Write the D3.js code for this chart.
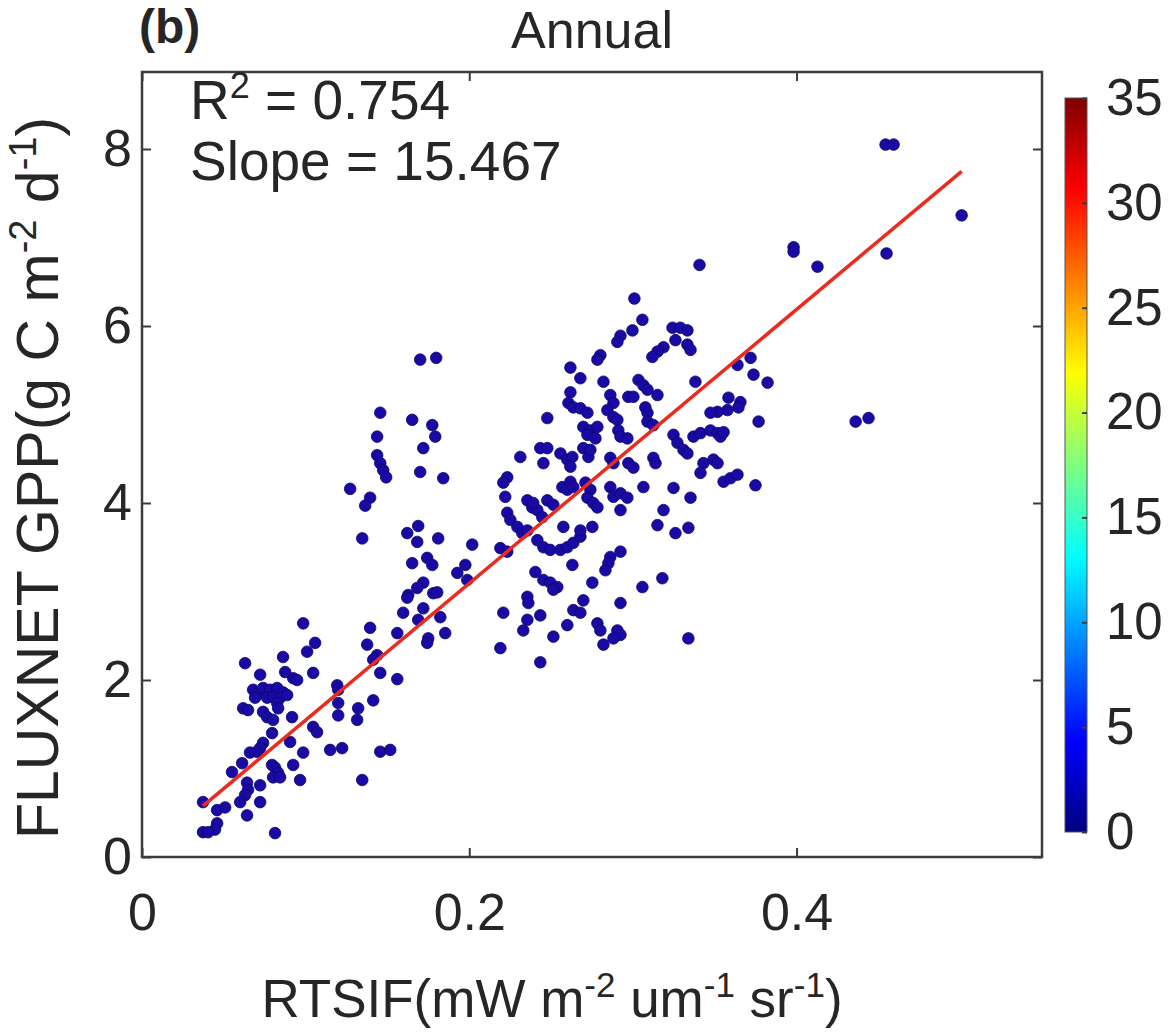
<!DOCTYPE html>
<html>
<head>
<meta charset="utf-8">
<script src="https://cdn.jsdelivr.net/npm/d3@7"></script>
<style>
  body { margin: 0; background: #fff; }
  text { font-family: "Liberation Sans", Arial, sans-serif; fill: #262626; }
</style>
</head>
<body>
<div id="container"></div>
<script>
// RTSIF (x) and FLUXNET GPP (y)
const sifVals = [
  0.0985,0.1394,0.1058,0.1009,0.1376,0.156,0.0862,0.063,0.1437,0.1413,
  0.0722,0.0875,0.0924,0.0948,0.1046,0.1456,0.156,0.1193,0.1199,0.0679,
  0.0709,0.074,0.0783,0.0826,0.0862,0.0691,0.0765,0.0801,0.0844,0.0887,
  0.0826,0.0832,0.0618,0.0648,0.074,0.0765,0.0801,0.0917,0.1199,0.1199,
  0.1321,0.1315,0.1413,0.1046,0.107,0.0795,0.0905,0.074,0.0722,0.0703,
  0.066,0.115,0.1223,0.1456,0.1517,0.0985,0.0612,0.055,0.0795,0.0813,
  0.0832,0.0801,0.0844,0.0924,0.0966,0.1346,0.0642,0.0648,0.063,0.0722,
  0.060,0.0722,0.0373,0.0459,0.0508,0.0642,0.0459,0.0446,0.0373,0.0404,
  0.0813,
  0.17,0.1798,0.1456,0.1651,0.1774,0.1792,0.1437,0.1719,0.1437,0.1456,
  0.1474,0.1492,0.17,0.1841,0.1272,0.1394,0.1364,0.1346,0.1621,0.1688,
  0.1682,0.181,0.1651,0.1743,0.1774,0.1927,0.1719,0.1682,0.1627,0.1621,
  0.178,0.1804,0.1596,0.1719,0.1688,0.1823,0.1853,0.1749,0.1743,
  0.3407,0.3009,0.3058,0.2997,0.2924,0.2905,0.3242,0.329,0.3333,0.326,
  0.3333,0.3352,0.3187,0.315,0.3119,0.2801,0.2783,0.2618,0.2679,0.282,
  0.3034,0.3064,0.3089,0.3382,0.3719,0.3737,0.3823,0.3639,0.2618,0.2606,
  0.2636,0.2862,0.2881,0.2972,0.3003,0.315,0.2679,0.2722,0.2844,0.2881,
  0.2905,0.3076,0.3089,0.3584,0.3657,0.3645,0.3578,0.3517,0.3474,0.3768,
  0.2477,0.2697,0.274,0.2783,0.2722,0.2771,0.2911,0.2924,0.2966,0.3089,
  0.3125,0.3248,0.3272,0.3309,0.3333,0.337,0.3413,0.3474,0.3517,0.3535,
  0.3554,0.2312,0.2434,0.2477,0.2453,0.2557,0.2599,0.263,0.2618,0.2697,
  0.2728,0.274,0.2862,0.2881,0.2972,0.3003,0.3125,0.3138,0.3431,0.3492,
  0.3517,0.3413,0.3554,0.3596,0.3639,0.3749,0.2232,0.2208,0.222,0.2355,
  0.2385,0.2416,0.2391,0.2477,0.2514,0.2569,0.2599,0.2618,0.2636,0.271,
  0.274,0.2722,0.2758,0.2783,0.2862,0.2881,0.2924,0.2966,0.3064,0.2924,
  0.3248,0.3352,0.3187,0.2232,0.2251,0.2294,0.2324,0.2446,0.2752,0.315,
  0.326,0.3339,0.2575,0.2416,0.2453,0.2495,0.2557,0.2599,0.2636,0.2679,
  0.2679,0.219,0.2232,0.2355,0.263,0.2404,0.2453,0.2495,0.2538,0.2514,
  0.2862,0.285,0.2832,0.2924,0.2752,0.3058,0.318,0.2355,0.2361,0.2208,
  0.2355,0.233,0.2434,0.2514,0.2636,0.2679,0.2697,0.2599,0.2783,0.2801,
  0.2924,0.2905,0.2924,0.2881,0.3339,0.2018,0.1976,0.1988,0.219,0.2434,
  0.282,
  0.4544,0.4593,0.5009,0.3982,0.3982,0.4128,0.455,0.4361,0.444
];
const gppVals = [
  2.64,2.59,2.42,2.32,2.40,2.53,2.26,2.19,2.28,2.23,
  2.06,2.09,2.02,2.00,2.08,2.08,2.01,1.94,1.89,1.89,
  1.85,1.91,1.89,1.91,1.86,1.80,1.80,1.81,1.80,1.83,
  1.74,1.68,1.68,1.66,1.64,1.58,1.55,1.58,1.74,1.60,
  1.68,1.55,1.77,1.47,1.41,1.40,1.30,1.29,1.23,1.19,
  1.18,1.21,1.23,1.19,1.21,1.18,1.06,0.96,1.04,1.01,
  0.95,0.90,0.90,1.04,0.87,0.87,0.84,0.76,0.70,0.81,
  0.62,0.62,0.62,0.53,0.56,0.47,0.38,0.31,0.28,0.28,
  0.27,
  5.62,5.64,5.02,4.94,4.88,4.75,4.75,4.62,4.54,4.45,
  4.37,4.29,4.35,4.28,4.16,4.06,3.97,3.60,3.66,3.74,
  3.56,3.60,3.32,3.38,3.30,3.21,3.10,3.04,2.96,2.93,
  2.98,2.99,2.76,2.81,2.68,2.71,2.53,2.47,2.42,
  6.69,6.31,6.07,5.95,5.89,5.82,5.98,5.98,5.95,5.84,
  5.79,5.73,5.76,5.71,5.65,5.67,5.62,5.53,5.41,5.37,
  5.39,5.33,5.28,5.37,5.64,5.45,5.36,5.56,5.25,5.13,
  5.08,5.22,5.13,5.20,5.20,5.22,5.07,5.02,5.05,4.97,
  4.94,5.08,5.02,5.19,5.14,5.08,5.05,5.03,5.02,4.92,
  4.96,4.86,4.82,4.86,4.77,4.73,4.82,4.75,4.73,4.92,
  4.88,4.77,4.68,4.60,4.56,4.75,4.79,4.82,4.79,4.75,
  4.80,4.52,4.62,4.62,4.45,4.56,4.49,4.52,4.41,4.62,
  4.52,4.60,4.51,4.45,4.45,4.40,4.51,4.45,4.45,4.49,
  4.45,4.34,4.24,4.28,4.32,4.20,4.29,4.23,4.07,4.03,
  3.95,3.92,4.00,4.03,3.98,4.18,4.15,4.24,4.18,4.23,
  4.15,4.06,4.00,3.95,4.18,4.07,4.11,4.06,4.18,3.92,
  4.17,4.06,3.92,3.89,3.81,3.73,3.66,3.84,3.73,3.75,
  3.66,3.72,3.73,3.58,3.50,3.47,3.47,3.50,3.55,3.62,
  3.69,3.49,3.45,3.69,3.30,3.22,3.13,3.10,3.05,3.02,
  3.39,3.32,3.24,3.45,3.10,3.05,3.15,2.94,2.87,2.76,
  2.68,2.56,2.73,2.49,2.79,2.76,2.90,2.62,2.64,2.56,
  2.87,2.56,2.51,2.47,2.47,3.53,3.30,3.13,2.36,2.20,
  2.40,
  8.05,8.05,7.25,6.89,6.84,6.67,6.82,4.92,4.96
];
const xTicks = [0, 0.2, 0.4];
const yTicks = [0, 2, 4, 6, 8];
const cbTicks = [0, 5, 10, 15, 20, 25, 30, 35];
const cbDomain = [0, 35];
// jet colormap stops, as fractions of the colour range
const jetStops = [0, 0.125, 0.375, 0.625, 0.875, 1];
const jetColors = ["#000080", "#0000ff", "#00ffff", "#ffff00", "#ff0000", "#800000"];
const fitSlope = 15.467;
const fitIntercept = 0.0;
const r2 = 0.754;

const W = 1168, H = 1034;
const mLeft = 142, mRight = 1042, mTop = 72, mBottom = 857;
const tickFont = "52px";

const svg = d3.select("#container").append("svg")
    .attr("width", W).attr("height", H);

const x = d3.scaleLinear().domain([0, 0.55]).range([mLeft, mRight]);
const y = d3.scaleLinear().domain([0, 8.87]).range([mBottom, mTop]);

const pts = sifVals.map((s, i) => ({s: s, g: gppVals[i]}));

// points
svg.append("g").selectAll("circle").data(pts).join("circle")
    .attr("cx", d => x(d.s))
    .attr("cy", d => y(d.g))
    .attr("r", 5.8)
    .attr("fill", "#1a0aa4")
    .attr("stroke", "#0d0570")
    .attr("stroke-width", 0.8);

// fit line across the data range
const ext = d3.extent(sifVals);
const fit = ext.map(s => ({s: s, g: fitIntercept + fitSlope * s}));
svg.append("path")
    .attr("d", d3.line().x(d => x(d.s)).y(d => y(d.g))(fit))
    .attr("stroke", "#ec2a1e")
    .attr("stroke-width", 3.5)
    .attr("fill", "none");

// axes, ticks pointing inward on all four sides
const axColor = "#3c3c3c";
function styleAxis(size) {
  return function(g) {
    g.select(".domain").remove();
    g.selectAll(".tick line").attr("stroke", axColor).attr("stroke-width", 2);
    g.selectAll(".tick text")
        .style("font-family", "'Liberation Sans', Arial, sans-serif")
        .style("font-size", size).attr("fill", "#262626");
  };
}
svg.append("g").attr("transform", "translate(0," + mBottom + ")")
    .call(d3.axisBottom(x).tickValues(xTicks).tickFormat(d => d)
        .tickSizeInner(-9).tickSizeOuter(0).tickPadding(36))
    .call(styleAxis(tickFont));
svg.append("g").attr("transform", "translate(0," + mTop + ")")
    .call(d3.axisTop(x).tickValues(xTicks).tickFormat("")
        .tickSizeInner(-9).tickSizeOuter(0))
    .call(styleAxis(tickFont));
svg.append("g").attr("transform", "translate(" + mLeft + ",0)")
    .call(d3.axisLeft(y).tickValues(yTicks).tickFormat(d => d)
        .tickSizeInner(-9).tickSizeOuter(0).tickPadding(10))
    .call(styleAxis(tickFont));
svg.append("g").attr("transform", "translate(" + mRight + ",0)")
    .call(d3.axisRight(y).tickValues(yTicks).tickFormat("")
        .tickSizeInner(-9).tickSizeOuter(0))
    .call(styleAxis(tickFont));

svg.append("rect")
    .attr("x", mLeft).attr("y", mTop)
    .attr("width", mRight - mLeft).attr("height", mBottom - mTop)
    .attr("fill", "none").attr("stroke", axColor).attr("stroke-width", 2.5);

// colour bar
const cbX = 1065, cbW = 22, cbTop = 98, cbBottom = 832;
const cbY = d3.scaleLinear().domain(cbDomain).range([cbBottom, cbTop]);
const grad = svg.append("defs").append("linearGradient")
    .attr("id", "jet").attr("x1", 0).attr("y1", 1).attr("x2", 0).attr("y2", 0);
jetStops.forEach((s, i) => {
  grad.append("stop").attr("offset", s).attr("stop-color", jetColors[i]);
});
svg.append("rect")
    .attr("x", cbX).attr("y", cbTop).attr("width", cbW).attr("height", cbBottom - cbTop)
    .attr("fill", "url(#jet)").attr("stroke", "#555").attr("stroke-width", 1);
svg.append("g").attr("transform", "translate(" + (cbX + cbW) + ",0)")
    .call(d3.axisRight(cbY).tickValues(cbTicks).tickFormat(d => d)
        .tickSizeInner(-5).tickSizeOuter(0).tickPadding(19))
    .call(styleAxis("51px"));

// titles and labels
svg.append("text").attr("x", (mLeft + mRight) / 2).attr("y", 48)
    .attr("text-anchor", "middle").style("font-size", "52px").text("Annual");
svg.append("text").attr("x", 139).attr("y", 43)
    .style("font-size", "48px").style("font-weight", "bold").text("(b)");

const t1 = svg.append("text").attr("x", 190).attr("y", 119).style("font-size", "55px");
t1.append("tspan").text("R");
t1.append("tspan").attr("dy", -21).style("font-size", "36px").text("2");
t1.append("tspan").attr("dy", 21).text(" = " + r2.toFixed(3));
svg.append("text").attr("x", 190).attr("y", 180).style("font-size", "55px")
    .text("Slope = " + fitSlope.toFixed(3));

const xl = svg.append("text").attr("x", 552).attr("y", 1017)
    .attr("text-anchor", "middle").style("font-size", "53px");
xl.append("tspan").text("RTSIF(mW m");
xl.append("tspan").attr("dy", -20).style("font-size", "35px").text("-2");
xl.append("tspan").attr("dy", 20).text(" um");
xl.append("tspan").attr("dy", -20).style("font-size", "35px").text("-1");
xl.append("tspan").attr("dy", 20).text(" sr");
xl.append("tspan").attr("dy", -20).style("font-size", "35px").text("-1");
xl.append("tspan").attr("dy", 20).text(")");

const yl = svg.append("text")
    .attr("transform", "translate(58,478) rotate(-90)")
    .attr("text-anchor", "middle").style("font-size", "59px");
yl.append("tspan").text("FLUXNET GPP(g C m");
yl.append("tspan").attr("dy", -22).style("font-size", "38px").text("-2");
yl.append("tspan").attr("dy", 22).text(" d");
yl.append("tspan").attr("dy", -22).style("font-size", "38px").text("-1");
yl.append("tspan").attr("dy", 22).text(")");
</script>
</body>
</html>
